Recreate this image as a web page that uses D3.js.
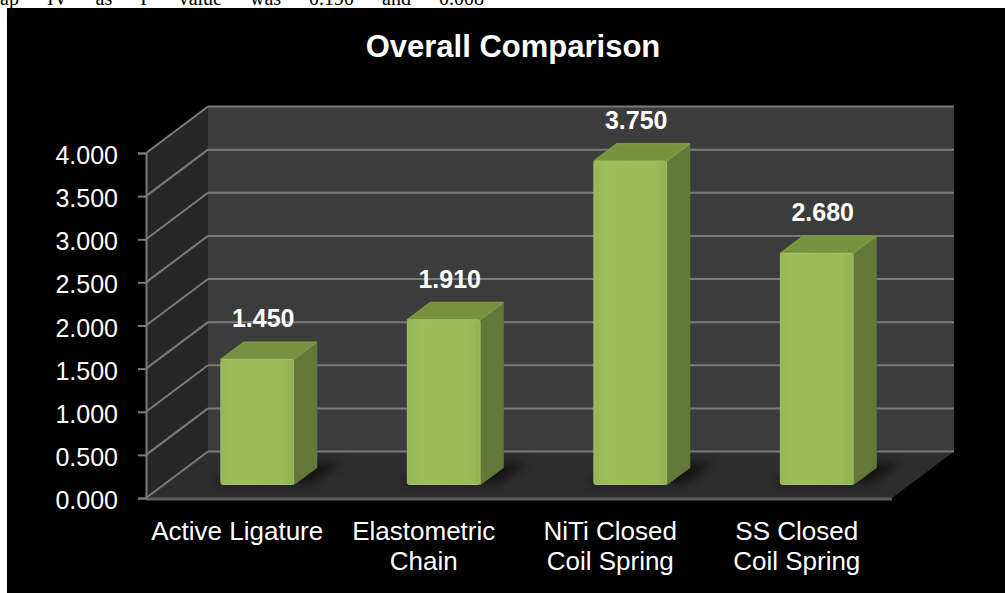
<!DOCTYPE html>
<html>
<head>
<meta charset="utf-8">
<script src="https://cdn.jsdelivr.net/npm/d3@7"></script>
<style>
  html, body { margin: 0; padding: 0; background: #fff; }
  svg { display: block; }
</style>
</head>
<body>
<div id="chart"></div>
<script>
const categories = ['Active Ligature', 'Elastometric Chain', 'NiTi Closed Coil Spring', 'SS Closed Coil Spring'];
// how the category names wrap under the axis
const categoryLines = [['Active Ligature'], ['Elastometric', 'Chain'], ['NiTi Closed', 'Coil Spring'], ['SS Closed', 'Coil Spring']];
const values = [1.45, 1.91, 3.75, 2.68];
const yTicks = [0, 0.5, 1, 1.5, 2, 2.5, 3, 3.5, 4];
const chartTitle = 'Overall Comparison';
const pageText = 'ap IV as P value was 0.190 and 0.008';

const width = 1005, height = 593;
const font = '"Liberation Sans", Arial, sans-serif';

// front plane of the 3d box and its depth offset
const front = { left: 146, right: 892, bottom: 498, top: 153 };
const depth = { dx: 62, dy: -46.5 };
const barFront = 0.29, barBack = 0.66, barWidth = 0.39;

const svg = d3.select('#chart').append('svg')
  .attr('width', width)
  .attr('height', height);

// clipped line of document text above the chart
svg.append('text')
  .attr('x', 0)
  .attr('y', 5)
  .attr('font-family', '"Liberation Serif", "Times New Roman", serif')
  .attr('font-size', 20)
  .attr('word-spacing', 23)
  .attr('fill', '#000')
  .text(pageText);

svg.append('rect')
  .attr('x', 7).attr('y', 8)
  .attr('width', width - 7).attr('height', height - 8)
  .attr('fill', '#000');

const defs = svg.append('defs');
defs.append('filter').attr('id', 'shadow')
  .attr('x', '-50%').attr('y', '-50%').attr('width', '200%').attr('height', '200%')
  .append('feGaussianBlur').attr('stdDeviation', 5);

const frontGrad = defs.append('linearGradient').attr('id', 'frontGrad')
  .attr('x1', 0).attr('x2', 1).attr('y1', 0).attr('y2', 0);
frontGrad.append('stop').attr('offset', '0%').attr('stop-color', '#98b656');
frontGrad.append('stop').attr('offset', '20%').attr('stop-color', '#9dbd5b');
frontGrad.append('stop').attr('offset', '85%').attr('stop-color', '#9bbb59');
frontGrad.append('stop').attr('offset', '100%').attr('stop-color', '#91b052');

const x = d3.scaleBand()
  .domain(categories)
  .range([front.left, front.right])
  .padding(0);

const y = d3.scaleLinear()
  .domain([0, 4])
  .range([front.bottom, front.top]);

// project a (x, value, depth) point onto the screen
const proj = (px, v, z) => [px + z * depth.dx, y(v) + z * depth.dy];
const poly = pts => 'M' + pts.map(p => p.join(',')).join('L') + 'Z';

const [vMin, vMax] = y.domain();

// walls and floor
svg.append('path')
  .attr('d', poly([proj(front.left, vMin, 1), proj(front.right, vMin, 1), proj(front.right, vMax, 1), proj(front.left, vMax, 1)]))
  .attr('fill', '#3c3c3c');

svg.append('path')
  .attr('d', poly([proj(front.left, vMin, 0), proj(front.left, vMax, 0), proj(front.left, vMax, 1), proj(front.left, vMin, 1)]))
  .attr('fill', '#262626');

svg.append('path')
  .attr('d', poly([proj(front.left, vMin, 0), proj(front.right, vMin, 0), proj(front.right, vMin, 1), proj(front.left, vMin, 1)]))
  .attr('fill', '#2d2d2d');

// gridlines on back wall and side wall
const grid = svg.append('g').attr('stroke', '#7a7a7a').attr('stroke-width', 2).attr('fill', 'none');
yTicks.forEach(t => {
  grid.append('path').attr('d', d3.line()([proj(front.left, t, 1), proj(front.right, t, 1)]));
  grid.append('path').attr('d', d3.line()([proj(front.left, t, 0), proj(front.left, t, 1)]));
});

// floor front edge
svg.append('line')
  .attr('x1', front.left).attr('x2', front.right)
  .attr('y1', y(0) + 1).attr('y2', y(0) + 1)
  .attr('stroke', '#5c5c5c').attr('stroke-width', 3);

// y axis
const yAxis = svg.append('g')
  .attr('transform', `translate(${front.left},0)`)
  .call(d3.axisLeft(y).tickValues(yTicks).tickFormat(d3.format('.3f')).tickSize(8).tickPadding(20));
yAxis.select('.domain').attr('stroke', '#7a7a7a').attr('stroke-width', 2);
yAxis.selectAll('.tick line').attr('stroke', '#7a7a7a').attr('stroke-width', 2);
yAxis.selectAll('.tick text')
  .attr('fill', '#fff')
  .attr('font-family', font)
  .attr('font-size', 25)
  .attr('dy', '0.42em');

// bars
const bars = svg.append('g');
const barGeom = categories.map((c, i) => {
  const cx = x(c) + x.bandwidth() / 2;
  const w = x.bandwidth() * barWidth;
  return { cat: c, value: values[i], xl: cx - w / 2, xr: cx + w / 2, cx };
});

bars.selectAll('.bar-shadow')
  .data(barGeom)
  .enter()
  .append('path')
  .attr('class', 'bar-shadow')
  .attr('d', d => poly([proj(d.xl - 8, 0, barFront + 0.02), proj(d.xr + 18, 0, barFront + 0.02), proj(d.xr + 18, 0, barBack + 0.1), proj(d.xl - 8, 0, barBack + 0.1)]))
  .attr('fill', '#000')
  .attr('opacity', 0.55)
  .attr('filter', 'url(#shadow)');

bars.selectAll('.bar-side')
  .data(barGeom)
  .enter()
  .append('path')
  .attr('class', 'bar-side')
  .attr('d', d => poly([proj(d.xr, 0, barFront), proj(d.xr, 0, barBack), proj(d.xr, d.value, barBack), proj(d.xr, d.value, barFront)]))
  .attr('fill', '#647839')
  .attr('stroke', '#647839')
  .attr('stroke-linejoin', 'round')
  .attr('stroke-width', 1.5);

bars.selectAll('.bar-top')
  .data(barGeom)
  .enter()
  .append('path')
  .attr('class', 'bar-top')
  .attr('d', d => poly([proj(d.xl, d.value, barFront), proj(d.xr, d.value, barFront), proj(d.xr, d.value, barBack), proj(d.xl, d.value, barBack)]))
  .attr('fill', '#77923f')
  .attr('stroke', '#7e9a44')
  .attr('stroke-linejoin', 'round')
  .attr('stroke-width', 1.5);

bars.selectAll('.bar-front')
  .data(barGeom)
  .enter()
  .append('rect')
  .attr('class', 'bar-front')
  .attr('x', d => proj(d.xl, 0, barFront)[0])
  .attr('y', d => proj(d.xl, d.value, barFront)[1])
  .attr('width', d => d.xr - d.xl)
  .attr('height', d => y(0) - y(d.value))
  .attr('rx', 2)
  .attr('fill', 'url(#frontGrad)')
  .attr('stroke', '#a4c463')
  .attr('stroke-width', 1);

// value labels
svg.selectAll('.value-label')
  .data(barGeom)
  .enter()
  .append('text')
  .attr('class', 'value-label')
  .attr('x', d => proj(d.cx, d.value, barFront)[0] + 6)
  .attr('y', d => proj(d.cx, d.value, barBack)[1] - 15)
  .attr('text-anchor', 'middle')
  .attr('font-family', font)
  .attr('font-weight', 'bold')
  .attr('font-size', 25)
  .attr('fill', '#fff')
  .text(d => d3.format('.3f')(d.value));

// category labels under the front edge
const catLabels = svg.selectAll('.cat-label')
  .data(categories)
  .enter()
  .append('text')
  .attr('class', 'cat-label')
  .attr('text-anchor', 'middle')
  .attr('font-family', font)
  .attr('font-size', 26)
  .attr('fill', '#fff');

catLabels.each(function (d, i) {
  const cx = x(d) + x.bandwidth() / 2 - 2;
  d3.select(this).selectAll('tspan')
    .data(categoryLines[i])
    .enter()
    .append('tspan')
    .attr('x', cx)
    .attr('y', (l, j) => 540 + j * 30)
    .text(l => l);
});

// title
svg.append('text')
  .attr('x', 513)
  .attr('y', 57)
  .attr('text-anchor', 'middle')
  .attr('font-family', font)
  .attr('font-weight', 'bold')
  .attr('font-size', 31)
  .attr('fill', '#fff')
  .text(chartTitle);
</script>
</body>
</html>
